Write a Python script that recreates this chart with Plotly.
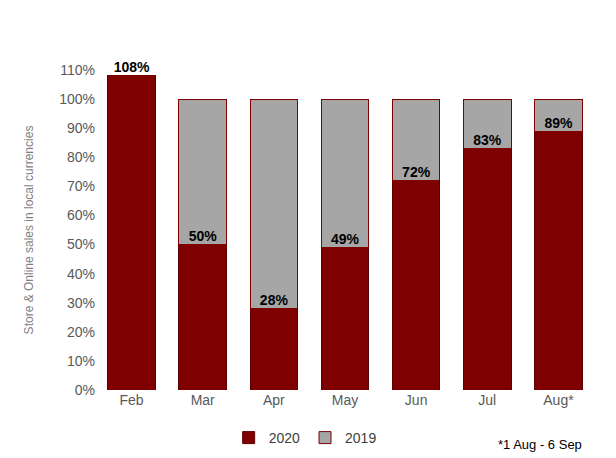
import plotly.graph_objects as go

months = ["Feb", "Mar", "Apr", "May", "Jun", "Jul", "Aug*"]
sales_2020 = [108, 50, 28, 49, 72, 83, 89]
sales_2019 = [0, 50, 72, 51, 28, 17, 11]
labels = ["108%", "50%", "28%", "49%", "72%", "83%", "89%"]

dark = "#7f0000"
grey = "#a6a6a6"

fig = go.Figure()
fig.add_trace(go.Bar(x=months, y=sales_2020, name="2020",
                     marker=dict(color=dark, line=dict(color="#5a0000", width=1))))
fig.add_trace(go.Bar(x=months, y=sales_2019, name="2019",
                     marker=dict(color=grey, line=dict(color=dark, width=1))))

# value labels sitting just above the 2020 segment
fig.add_trace(go.Scatter(x=months, y=sales_2020, mode="text",
                         text=["<b>" + t + "</b>" for t in labels],
                         textposition="top center", showlegend=False,
                         textfont=dict(family="Arial", size=14, color="black"),
                         hoverinfo="skip", cliponaxis=False))

fig.update_layout(
    barmode="stack", bargap=0.33,
    width=616, height=458,
    margin=dict(l=88, r=30, t=62, b=72),
    plot_bgcolor="white", paper_bgcolor="white",
    font=dict(family="Arial", color="#595959", size=13),
    legend=dict(orientation="h", x=0.42, xanchor="center", y=-0.1, yanchor="top",
                traceorder="normal", itemwidth=30,
                font=dict(size=14, color="#404040")),
    yaxis=dict(range=[0, 110], dtick=10, ticksuffix="%", showgrid=False,
               tickfont=dict(size=14, color="#595959"),
               title=dict(text="Store & Online sales in local currencies",
                          font=dict(size=12, color="#7f7f7f"), standoff=22)),
    xaxis=dict(showline=False, tickfont=dict(size=14, color="#595959")),
)
fig.add_annotation(text="*1 Aug - 6 Sep", xref="paper", yref="paper", x=0.98, y=-0.14,
                   xanchor="right", yanchor="top", showarrow=False,
                   font=dict(size=13, color="black"))

fig.write_html("out.html")
